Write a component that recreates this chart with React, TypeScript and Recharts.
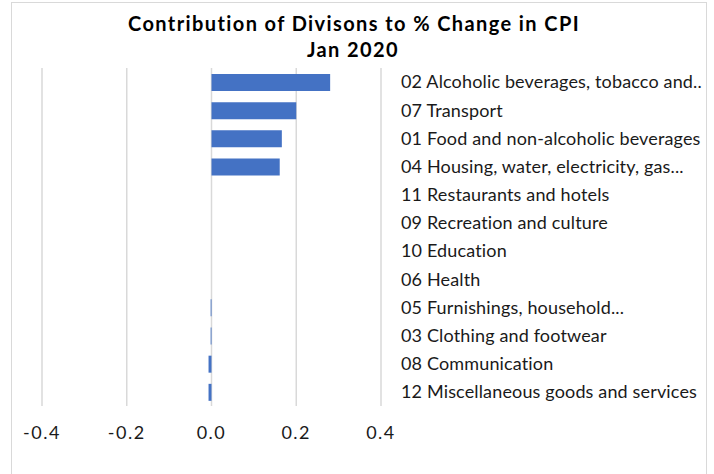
import { BarChart, Bar, XAxis, YAxis, CartesianGrid } from "recharts";

// top to bottom, as in the reference
const divisions = [
  "02 Alcoholic beverages, tobacco and..",
  "07 Transport",
  "01 Food and non-alcoholic beverages",
  "04 Housing, water, electricity, gas...",
  "11 Restaurants and hotels",
  "09 Recreation and culture",
  "10 Education",
  "06 Health",
  "05 Furnishings, household...",
  "03 Clothing and footwear",
  "08 Communication",
  "12 Miscellaneous goods and services",
];
const contribution = [0.28, 0.2, 0.166, 0.161, 0, 0, 0, 0, -0.002, -0.002, -0.007, -0.007];
const xTicks = [-0.4, -0.2, 0, 0.2, 0.4];

const FONT = "Lato, 'DejaVu Sans', sans-serif";

const App = () => {
  const chartData = divisions.map((name, i) => ({ name, value: contribution[i] }));

  return (
    <div
      style={{
        position: "absolute", left: 0, top: 0, width: 714, height: 474,
        overflow: "hidden", background: "#fff", fontFamily: FONT,
      }}
    >
      <div
        style={{
          position: "absolute", left: 11, top: 2, width: 696, height: 490,
          border: "1px solid #d9d9d9", boxSizing: "border-box",
        }}
      />
      <BarChart
        width={714}
        height={474}
        data={chartData}
        layout="vertical"
        margin={{ top: 68, right: 0, bottom: 28, left: 42 }}
      >
        <CartesianGrid vertical horizontal={false} stroke="#d9d9d9" strokeWidth={1.5} />
        <XAxis
          type="number"
          domain={[-0.4, 0.4]}
          ticks={xTicks}
          tickFormatter={(v: number) => v.toFixed(1)}
          axisLine={false}
          tickLine={false}
          tickSize={0}
          tickMargin={20}
          height={40}
          tick={{ fontSize: 18, fill: "#1a1a1a", fontFamily: FONT, letterSpacing: 1.5 }}
        />
        <YAxis
          type="category"
          dataKey="name"
          orientation="right"
          width={333}
          axisLine={false}
          tickLine={false}
          tickSize={0}
          tickMargin={20}
          interval={0}
          tick={{ fontSize: 18, fill: "#1a1a1a", fontFamily: FONT, textAnchor: "start", letterSpacing: 0.15 }}
        />
        <Bar dataKey="value" fill="#4472C4" barSize={17} isAnimationActive={false} />
      </BarChart>
      <svg
        width={714}
        height={474}
        style={{ position: "absolute", left: 0, top: 0, pointerEvents: "none" }}
      >
        <text x={354} y={31} textAnchor="middle" fontSize={20} fontWeight="bold" fill="#000" fontFamily={FONT} letterSpacing={1.4}>
          Contribution of Divisons to % Change in CPI
        </text>
        <text x={353} y={57} textAnchor="middle" fontSize={20} fontWeight="bold" fill="#000" fontFamily={FONT} letterSpacing={1.4}>
          Jan 2020
        </text>
      </svg>
    </div>
  );
};

export default App;
